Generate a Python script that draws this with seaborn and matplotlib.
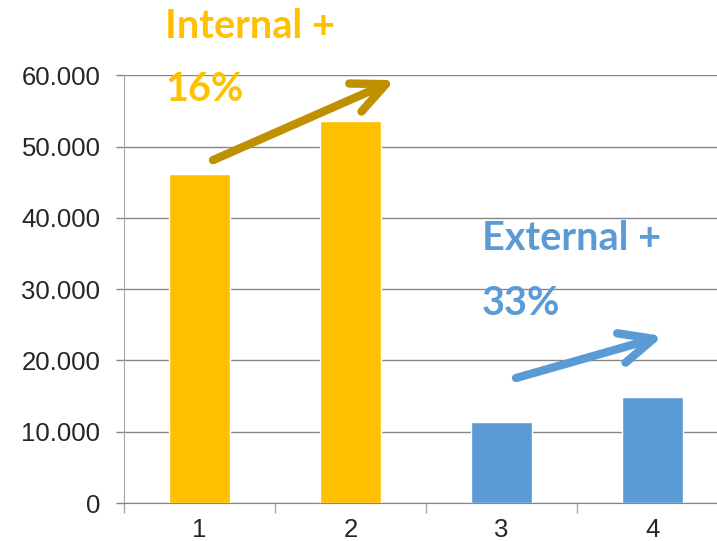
import pandas as pd
import seaborn as sns
import matplotlib
from matplotlib import pyplot as plt
from matplotlib.ticker import FuncFormatter, FixedLocator

matplotlib.use('Agg')

categories = ["1", "2", "3", "4"]
values = [46100, 53600, 11300, 14900]
groups = ["Internal", "Internal", "External", "External"]
colors = {"Internal": "#FFC000", "External": "#5B9BD5"}
y_ticks = [0, 10000, 20000, 30000, 40000, 50000, 60000]

df = pd.DataFrame({"cat": categories, "value": values, "group": groups})

sns.set_style("white")
plt.rcParams['font.family'] = ['Liberation Sans', 'DejaVu Sans']

fig = plt.figure(figsize=(7.17, 5.41), dpi=100)
ax = fig.add_axes([0.173, 0.0702, 0.8423, 0.7906])

sns.barplot(data=df, x="cat", y="value", hue="group", palette=colors,
            dodge=False, width=0.4, legend=False, ax=ax, saturation=1)

ax.set_ylim(0, 60000)
ax.set_xlim(-0.5, 3.5)
ax.set_yticks(y_ticks)
ax.yaxis.set_major_formatter(FuncFormatter(lambda v, p: "0" if v == 0 else f"{int(v):,}".replace(",", ".")))
ax.grid(axis="y", color="#868686", lw=1)
ax.set_axisbelow(True)
ax.set_xlabel("")
ax.set_ylabel("")

for s in ["top", "right"]:
    ax.spines[s].set_visible(False)
ax.spines["left"].set_color("#A6A6A6")
ax.spines["bottom"].set_color("#868686")

ax.tick_params(axis="y", length=6, color="#868686", width=1, pad=11, labelsize=18.5, left=True)
ax.tick_params(axis="x", which="major", length=0, pad=11, labelsize=18.5)
ax.xaxis.set_minor_locator(FixedLocator([-0.5, 0.5, 1.5, 2.5]))
ax.tick_params(axis="x", which="minor", length=7, color="#A6A6A6", width=1, bottom=True)

# growth annotations
txt = dict(fontsize=28.5, fontweight="bold", family=["Lato", "DejaVu Sans"], clip_on=False, va="baseline")
ax.text(-0.228, 65300, "Internal +", color="#FFC000", **txt)
ax.text(-0.228, 56400, "16%", color="#FFC000", **txt)
ax.text(1.87, 35500, "External +", color="#5B9BD5", **txt)
ax.text(1.87, 26400, "33%", color="#5B9BD5", **txt)

head = "->,head_length=2.4,head_width=1.1"
ax.annotate("", xy=(1.295, 59330), xytext=(0.089, 48100),
            arrowprops=dict(arrowstyle=head, color="#BF9000", lw=6,
                            shrinkA=0, shrinkB=0, capstyle="round", joinstyle="round"),
            annotation_clip=False)
ax.annotate("", xy=(3.07, 23420), xytext=(2.096, 17530),
            arrowprops=dict(arrowstyle=head, color="#5B9BD5", lw=6,
                            shrinkA=0, shrinkB=0, capstyle="round", joinstyle="round"),
            annotation_clip=False)

fig.savefig("out.png", dpi=100)
